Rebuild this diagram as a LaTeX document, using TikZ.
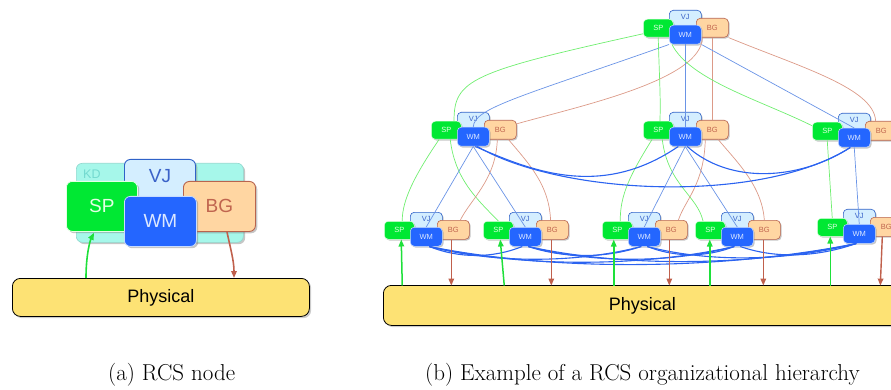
\documentclass[tikz,border=0pt]{standalone}
\usepackage{fontspec}
\newfontfamily\lblfont{Liberation Sans}
\usetikzlibrary{shadows,arrows.meta,calc}
\definecolor{spfill}{HTML}{00E833}
\definecolor{sptext}{HTML}{E4FFE4}
\definecolor{wmfill}{HTML}{2466FF}
\definecolor{wmtext}{HTML}{DCE8FF}
\definecolor{wmborder}{HTML}{C8DCFF}
\definecolor{vjfill}{HTML}{D4EEFF}
\definecolor{vjborder}{HTML}{2F62C8}
\definecolor{vjtext}{HTML}{3A62C8}
\definecolor{bgfill}{HTML}{FFD6A2}
\definecolor{bgborder}{HTML}{B8644E}
\definecolor{bgtext}{HTML}{C0654F}
\definecolor{kdfill}{HTML}{A6F7EA}
\definecolor{kdborder}{HTML}{8ED8CE}
\definecolor{kdtext}{HTML}{74DAD0}
\definecolor{physfill}{HTML}{FDE274}
\definecolor{lgreen}{HTML}{70EE70}
\definecolor{lblue}{HTML}{6A94E6}
\definecolor{lbrown}{HTML}{DC9A88}
\definecolor{agreen}{HTML}{1EE03A}
\definecolor{abrown}{HTML}{C0604C}
\definecolor{tblue}{HTML}{2B63F0}
\newcommand\rcsclust[3]{%
  \node[vj] (#1-vj) at (#2+26,#3-9) {VJ};
  \node[sp] (#1-sp) at (#2,#3) {SP};
  \node[bg] (#1-bg) at (#2+53,#3-1) {BG};
  \node[wm] (#1-wm) at (#2+26,#3+6) {WM};
}
\newcommand\wmlink[4]{\draw[tb] ([xshift=3pt]#1-wm.south) .. controls +(#3,#4) and +(-#3,#4) .. ([xshift=-3pt]#2-wm.south);}
\begin{document}
\begin{tikzpicture}[x=1pt,y=-1pt,
  box/.style={rounded corners=4pt, inner sep=0pt, anchor=north west,
    font=\lblfont\fontsize{7.5pt}{8pt}\selectfont,
    drop shadow={shadow xshift=1.3pt, shadow yshift=-1.3pt, opacity=0.45}},
  sp/.style={box, fill=spfill, draw=sptext, line width=0.5pt, text=sptext, minimum width=30pt, minimum height=18pt},
  wm/.style={box, fill=wmfill, draw=wmborder, line width=0.5pt, text=wmtext, minimum width=32pt, minimum height=19pt},
  bg/.style={box, fill=bgfill, draw=bgborder, line width=0.6pt, text=bgtext, minimum width=32pt, minimum height=19pt},
  vj/.style={box, fill=vjfill, draw=vjborder, line width=0.6pt, text=vjtext, minimum width=32pt, minimum height=20pt, text height=9.5pt, text depth=10.5pt},
  bigbox/.style={rounded corners=6pt, inner sep=0pt, anchor=north west,
    font=\lblfont\fontsize{19pt}{22pt}\selectfont,
    drop shadow={shadow xshift=1.8pt, shadow yshift=-1.8pt, opacity=0.45}},
  bsp/.style={bigbox, fill=spfill, draw=sptext, line width=0.8pt, text=sptext, minimum width=71pt, minimum height=50pt},
  bwm/.style={bigbox, fill=wmfill, draw=wmborder, line width=0.8pt, text=wmtext, minimum width=72pt, minimum height=50pt},
  bbg/.style={bigbox, fill=bgfill, draw=bgborder, line width=0.9pt, text=bgtext, minimum width=72pt, minimum height=50pt},
  bvj/.style={bigbox, fill=vjfill, draw=vjborder, line width=0.9pt, text=vjtext, minimum width=71pt, minimum height=52pt, text height=23pt, text depth=29pt},
  kdbox/.style={bigbox, fill=kdfill, draw=kdborder, line width=0.6pt, minimum width=167pt, minimum height=79pt},
  kdlbl/.style={anchor=west, inner sep=0pt, text=kdtext, font=\lblfont\fontsize{12.5pt}{14pt}\selectfont},
  phys/.style={rounded corners=8pt, inner sep=0pt, anchor=north west, fill=physfill, draw=black, line width=0.8pt,
    font=\lblfont\fontsize{18pt}{20pt}\selectfont,
    drop shadow={shadow xshift=1.8pt, shadow yshift=-1.8pt, opacity=0.4}},
  lg/.style={lgreen, line width=0.7pt},
  lb/.style={lblue, line width=0.7pt},
  lr/.style={lbrown, line width=0.7pt},
  tb/.style={tblue, line width=1.1pt},
  garrow/.style={agreen, line width=1.5pt, -{Triangle[length=7pt,width=5.5pt]}},
  barrow/.style={abrown, line width=1.4pt, -{Triangle[length=7pt,width=5.5pt]}},
  captext/.style={inner sep=0pt, anchor=base west, font=\fontsize{23pt}{27pt}\selectfont}
]
\useasboundingbox (0,0) rectangle (891,390);

% (a) single node
\node[kdbox] (kd) at (76,163) {};
\node[kdlbl] (kdlabel) at (83,174) {KD};
\node[bvj] (bigvj) at (124,159) {VJ};
\node[bsp] (bigsp) at (66,181) {SP};
\node[bbg] (bigbg) at (183,181) {BG};
\node[bwm] (bigwm) at (124,196) {WM};
\node[phys, minimum width=297pt, minimum height=38pt] (phys1) at (12,278) {Physical};
\draw[garrow, line width=1.6pt] ($(phys1.north west)+(74,0)$) .. controls +(0,-23) and +(-4,8) .. ($(bigsp.south west)+(28,1)$);
\draw[barrow, line width=1.6pt] ($(bigbg.south west)+(44,0)$) .. controls +(3,15) and +(0,-18) .. ($(phys1.north west)+(222,0)$);

% (b) hierarchy
\rcsclust{top}{643}{19}
\rcsclust{ml}{431}{121}
\rcsclust{mc}{643}{121}
\rcsclust{mr}{812}{122}
\rcsclust{ba}{384}{221}
\rcsclust{bb}{483}{221}
\rcsclust{bc}{602}{221}
\rcsclust{bd}{695}{221}
\rcsclust{be}{817}{218}

% top -> mid
\draw[lg] (top-sp.200) .. controls (470,72) and (454,80) .. (ml-sp.50);
\draw[lb] (top-wm.south west) .. controls (520,97) and (474,108) .. (ml-wm.north);
\draw[lr] ([xshift=-10pt]top-bg.south) .. controls (702,80) and (580,106) .. (ml-bg.20);
\draw[lg] (top-sp.south) .. controls (659,70) and (661,100) .. (mc-sp.80);
\draw[lb] (top-wm.south) -- (mc-wm.north);
\draw[lr] (top-bg.south) -- (mc-bg.north);
\draw[lg] ([xshift=3pt]top-wm.south west) .. controls (690,80) and (760,100) .. (mr-sp.160);
\draw[lb] (top-wm.south east) -- (mr-wm.north);
\draw[lr] (top-bg.south east) .. controls (800,67) and (874,88) .. (mr-bg.120);

% mid -> bottom
\draw[lg] (ml-sp.232) .. controls (415,175) and (402,200) .. (ba-sp.72);
\draw[lg] ([xshift=4pt]ml-sp.south) .. controls (455,180) and (478,200) .. (bb-sp.north);
\draw[lb] (ml-wm.south) -- (ba-wm.north);
\draw[lb] (ml-wm.south) -- (bb-wm.north);
\draw[lr] ([xshift=-3pt]ml-bg.south) .. controls (496,180) and (470,200) .. (ba-bg.54);
\draw[lr] (ml-bg.310) .. controls (530,165) and (549,185) .. (bb-bg.100);
\draw[lg] (mc-sp.236) .. controls (630,175) and (620,195) .. (bc-sp.72);
\draw[lg] ([xshift=4pt]mc-sp.south) .. controls (668,185) and (697,195) .. (bd-sp.128);
\draw[lb] (mc-wm.south) -- (bc-wm.north);
\draw[lb] (mc-wm.south) -- (bd-wm.north);
\draw[lr] ([xshift=-7pt]mc-bg.south) .. controls (704,185) and (685,200) .. (bc-bg.54);
\draw[lr] ([xshift=6pt]mc-bg.south) .. controls (735,160) and (762,185) .. (bd-bg.north);
\draw[lg] (mr-sp.south) -- (be-sp.north);
\draw[lb] (mr-wm.south) -- (be-wm.north);

% peer links (mid)
\draw[tb] ([xshift=2pt]ml-wm.south) .. controls (530,170) and (600,200) .. ([xshift=-7pt]mc-wm.south);
\draw[tb] ([xshift=4pt]ml-wm.south) .. controls (560,195) and (760,205) .. ([xshift=-4pt]mr-wm.south);
\draw[tb] ([xshift=2pt]mc-wm.south) .. controls (730,185) and (800,180) .. ([xshift=-4pt]mr-wm.south);

% peer links (bottom)
\wmlink{ba}{bb}{30}{12}
\wmlink{ba}{bc}{65}{17}
\wmlink{ba}{bd}{93}{21}
\wmlink{ba}{be}{130}{26}
\wmlink{bb}{bc}{36}{12}
\wmlink{bb}{bd}{64}{17}
\wmlink{bb}{be}{100}{22}
\wmlink{bc}{bd}{28}{11}
\wmlink{bc}{be}{65}{17}
\wmlink{bd}{be}{37}{13}

\node[phys, minimum width=518pt, minimum height=40pt] (phys2) at (383,285) {Physical};

% sensing / acting arrows
\draw[garrow] ($(ba-sp.south)+(3,46)$) -- ($(ba-sp.south)+(2,0)$);
\draw[garrow] ($(bb-sp.south)+(6,46)$) -- ($(bb-sp.south)+(2,0)$);
\draw[garrow] ($(bc-sp.south)+(-3.5,46)$) -- ($(bc-sp.south)+(-3.5,0)$);
\draw[garrow] ($(bd-sp.south)+(-0.5,46)$) -- ($(bd-sp.south)+(-0.5,0)$);
\draw[garrow] ($(be-sp.south)+(-2,49)$) -- ($(be-sp.south)+(-2,0)$);
\draw[barrow] ([xshift=-2pt]ba-bg.south) -- +(0,46);
\draw[barrow] ([xshift=-1pt]bb-bg.south) -- +(0,46);
\draw[barrow] ([xshift=-2pt]bc-bg.south) -- +(0,46);
\draw[barrow] ([xshift=-1pt]bd-bg.south) -- +(0,46);
\draw[barrow] ([xshift=-4pt]be-bg.south) -- +(-2,49);

% captions
\node[captext] (capa) at (108,380) {(a) RCS node};
\node[captext] (capb) at (425,380) {(b) Example of a RCS organizational hierarchy};
\end{tikzpicture}
\end{document}
